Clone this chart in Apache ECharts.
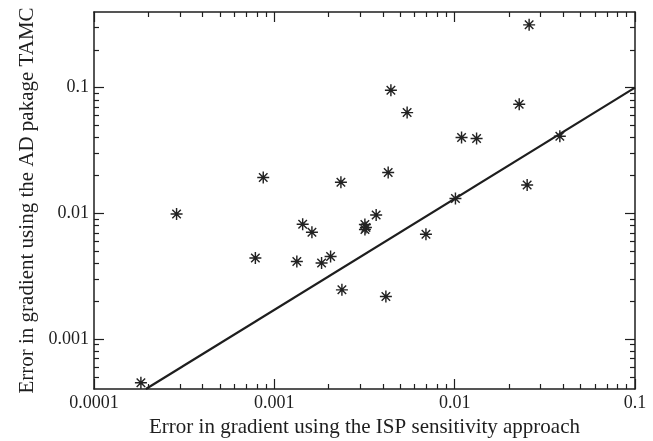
<!DOCTYPE html>
<html><head><meta charset="utf-8">
<script src="https://cdn.jsdelivr.net/npm/echarts@6/dist/echarts.min.js"></script>
<style>html,body{margin:0;padding:0;background:#fff}#c{width:653px;height:441px}</style>
</head><body><div id="c"></div>
<script>
// ---- data ----
const ispErrors = [0.000182, 0.000287, 0.000868, 0.000785, 0.001333, 0.001436, 0.001616, 0.001828,
  0.002051, 0.00234, 0.00237, 0.003178, 0.00322, 0.00318, 0.00367, 0.004155, 0.004279, 0.00443,
  0.00545, 0.00693, 0.0101, 0.01092, 0.01323, 0.0228, 0.02523, 0.02588, 0.0383];
const tamcErrors = [0.000448, 0.00987, 0.0193, 0.00441, 0.00413, 0.00819, 0.00708, 0.00403,
  0.00453, 0.0177, 0.00246, 0.00815, 0.00771, 0.00744, 0.0097, 0.00218, 0.0211, 0.0952,
  0.0633, 0.00681, 0.0131, 0.0401, 0.0394, 0.0737, 0.0168, 0.316, 0.0411];
const fitLineX = [0.000194, 0.1];
const fitLineY = [0.0004, 0.1];
const xRange = [0.0001, 0.1];
const yRange = [0.0004, 0.4];
const xMajorTicks = [0.0001, 0.001, 0.01, 0.1];
const yMajorTicks = [0.001, 0.01, 0.1];
const xTitle = 'Error in gradient using the ISP sensitivity approach';
const yTitle = 'Error in gradient using the AD pakage TAMC';

// ---- helpers ----
function minorTicks(range) {
  const out = [];
  const d0 = Math.floor(Math.log10(range[0]) + 1e-9), d1 = Math.ceil(Math.log10(range[1]) - 1e-9);
  for (let d = d0; d <= d1; d++) {
    for (let k = 2; k <= 9; k++) {
      const v = Number((k * Math.pow(10, d)).toPrecision(6));
      if (v > range[0] * 1.0001 && v < range[1] * 0.9999) out.push(v);
    }
  }
  return out;
}
const FONT = 'Liberation Serif';
const INK = '#1e1e1e';
const fmt = v => String(Number(Number(v).toPrecision(6)));
const lineStyle = { color: INK, width: 1.5 };

function axis(kind, position, range, ticks, len, main) {
  const a = {
    type: 'log', logBase: 10, position, min: range[0], max: range[1],
    axisLine: { show: !!main || false, onZero: false, lineStyle },
    axisTick: { show: true, inside: true, length: len, customValues: ticks, lineStyle: { color: INK, width: 1.2 } },
    axisLabel: { show: false },
    splitLine: { show: false }, minorSplitLine: { show: false },
    axisPointer: { show: false }
  };
  if (main === 'labels') {
    a.axisLabel = { show: true, customValues: ticks, formatter: fmt, color: INK,
      fontFamily: FONT, fontSize: 18, margin: 5 };
    a.name = kind === 'x' ? xTitle : yTitle;
    a.nameLocation = 'middle';
    a.nameGap = kind === 'x' ? 28 : 55;
    a.nameTextStyle = { color: INK, fontFamily: FONT, fontSize: 21 };
  }
  return a;
}

const xMinor = minorTicks(xRange), yMinor = minorTicks(yRange);

const star = 'path://M0,44L100,44L100,56L0,56Z M44,0L56,0L56,100L44,100Z ' +
  'M18.8,10.4L89.6,81.2L81.2,89.6L10.4,18.8Z M81.2,10.4L89.6,18.8L18.8,89.6L10.4,81.2Z ' +
  'M38,38L62,38L62,62L38,62Z';

const chart = echarts.init(document.getElementById('c'), null, { renderer: 'canvas' });
chart.setOption({
  animation: false,
  backgroundColor: '#fff',
  grid: { left: 94, right: 18, top: 12, bottom: 52, containLabel: false, outerBoundsMode: 'none' },
  xAxis: [
    axis('x', 'bottom', xRange, xMajorTicks, 10, 'labels'),
    axis('x', 'bottom', xRange, xMinor, 5, false),
    axis('x', 'top', xRange, xMajorTicks, 10, true),
    axis('x', 'top', xRange, xMinor, 5, false)
  ],
  yAxis: [
    axis('y', 'left', yRange, yMajorTicks, 10, 'labels'),
    axis('y', 'left', yRange, yMinor, 5, false),
    axis('y', 'right', yRange, yMajorTicks, 10, true),
    axis('y', 'right', yRange, yMinor, 5, false)
  ],
  series: [
    {
      type: 'line', xAxisIndex: 0, yAxisIndex: 0, showSymbol: false, symbol: 'none',
      data: fitLineX.map((x, i) => [x, fitLineY[i]]),
      lineStyle: { color: INK, width: 2.2 }, silent: true, clip: true, z: 3
    },
    {
      type: 'scatter', xAxisIndex: 0, yAxisIndex: 0, symbol: star, symbolSize: 12,
      data: ispErrors.map((x, i) => [x, tamcErrors[i]]),
      itemStyle: { color: '#222', opacity: 1 }, z: 4
    }
  ]
});
</script>
</body></html>
